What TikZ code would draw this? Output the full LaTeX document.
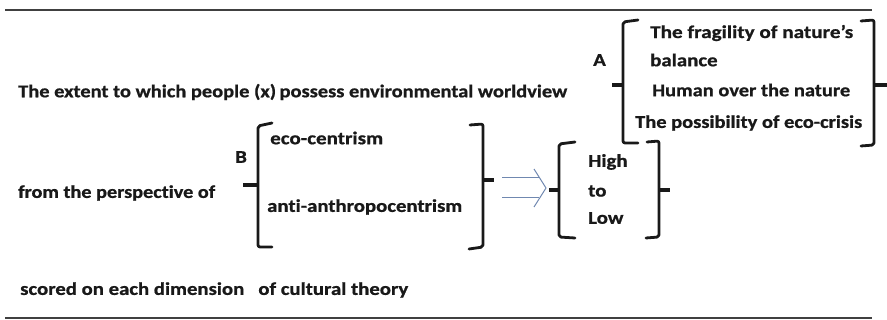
\documentclass[tikz,border=0pt]{standalone}
\usepackage{fontspec}
\usepackage{graphicx}
\setmainfont{Carlito}[Ligatures={NoCommon},BoldFeatures={FakeBold=0.8}]
% stretch a line of text horizontally to a given width (in pt), keeping its height
\newcommand\fitw[2]{\resizebox{#1pt}{\height}{#2}}
\newcommand\widen[1]{\scalebox{1.16}[1]{#1}}
\definecolor{arrowblue}{RGB}{112,136,176}
\begin{document}
\begin{tikzpicture}[x=1pt,y=-1pt,
  txt/.style={anchor=west,inner sep=0pt,font=\bfseries\fontsize{18}{20}\selectfont,text=black!90},
  brk/.style={line width=2.8pt,black!90,line cap=round,line join=round},
  stub/.style={line width=4.5pt,black!90},
  rule/.style={line width=2.8pt,black!75},
  dblarrow/.style={line width=1pt,draw=arrowblue}]
\useasboundingbox (0,0) rectangle (887,320);

% horizontal rules
\coordinate (tl) at (5,10);  \coordinate (tr) at (872,10);
\coordinate (bl) at (5,318); \coordinate (br) at (872,318);
\draw[rule] (tl) -- (tr);
\draw[rule,line width=2pt] (bl) -- (br);

% left-hand texts
\node[txt] (t1) at (18,92) {\fitw{549}{The extent to which people (x)\,possess environmental worldview}};
\node[txt] (t2) at (18,193) {\fitw{197}{from the perspective of}};
\node[txt] (t3) at (20,290) {\fitw{388}{scored on each dimension\ \ \ of cultural theory}};

% group A
\node[txt] (la) at (593,60) {\widen{A}};
\draw[brk,rounded corners=2pt] (638,20) -- (623,22) -- (623,143) -- (638,143);
\draw[stub] (612,85) -- (623,85);
\node[txt] (a1) at (650,33) {\fitw{203}{The fragility of nature's}};
\node[txt] (a2) at (650,60) {\widen{balance}};
\node[txt] (a3) at (652,90) {\fitw{198}{Human over the nature}};
\node[txt] (a4) at (635,123) {\fitw{227}{The possibility of eco-crisis}};
\draw[brk,rounded corners=2pt] (861,21) -- (874,20) -- (874,145) -- (861,146);
\draw[stub] (874,85) -- (887,85);

% group B
\node[txt] (lb) at (235,157) {\widen{B}};
\draw[brk,rounded corners=2pt] (272,123) -- (258,126) -- (258,247) -- (272,247);
\draw[stub] (243,185) -- (258,185);
\node[txt] (b1) at (270,138) {\fitw{113}{eco-centrism}};
\node[txt] (b2) at (267,207) {\fitw{195}{anti-anthropocentrism}};
\draw[brk,rounded corners=2pt] (470,125) -- (483,124) -- (483,247) -- (469,249);
\draw[stub] (483,180) -- (494,180);

% outlined double arrow
\coordinate (ar1) at (502,178); \coordinate (ar2) at (502,198);
\coordinate (ah1) at (534,169); \coordinate (ahtip) at (546,188); \coordinate (ah2) at (534,207);
\draw[dblarrow] (ar1) -- (539,178);
\draw[dblarrow] (ar2) -- (539,198);
\draw[dblarrow,line join=round] (ah1) -- (ahtip) -- (ah2);

% group C
\draw[brk,rounded corners=2pt] (575,142) -- (559,144) -- (559,237) -- (575,238);
\draw[stub] (549,190) -- (559,190);
\node[txt] (c1) at (588,162) {\widen{High}};
\node[txt] (c2) at (588,191) {\widen{to}};
\node[txt] (c3) at (588,218) {\widen{Low}};
\draw[brk,rounded corners=2pt] (647,142) -- (659,141) -- (659,237) -- (646,238);
\draw[stub] (659,190) -- (670,190);
\end{tikzpicture}
\end{document}
